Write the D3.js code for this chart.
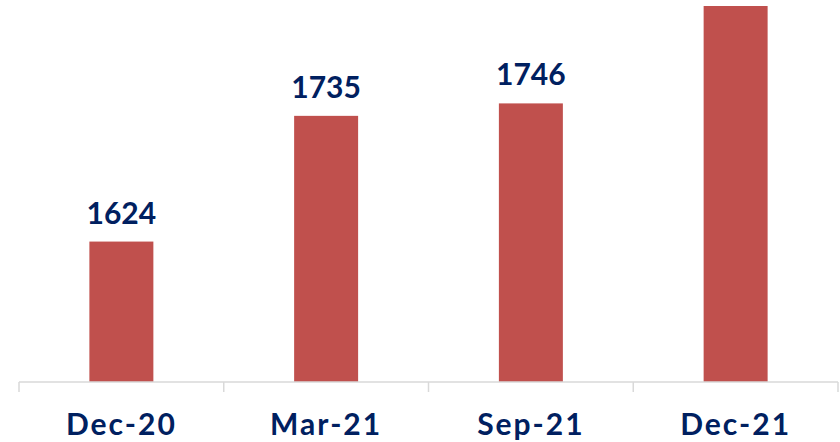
<!DOCTYPE html>
<html>
<head>
<meta charset="utf-8">
<script src="https://cdn.jsdelivr.net/npm/d3@7"></script>
<style>
  body { margin: 0; background: #fff; }
  text { font-family: "Lato", "DejaVu Sans", sans-serif; font-weight: bold; }
</style>
</head>
<body>
<div id="container"></div>
<script>
let categories = ["Dec-20", "Mar-21", "Sep-21", "Dec-21"];
let values = [1624, 1735, 1746, 1832];

let width = 840, height = 442;
let margin = {left: 19, right: 2, baseline: 382, top: 6};

let svg = d3.select("#container").append("svg")
    .attr("width", width)
    .attr("height", height);

let x = d3.scaleBand()
    .domain(categories)
    .range([margin.left, width - margin.right])
    .padding(0);

let y = d3.scaleLinear()
    .domain([1500, 1832])
    .range([margin.baseline, margin.top]);

let barWidth = x.bandwidth() * 0.3125;

svg.selectAll(".bar")
    .data(values)
    .enter().append("rect")
    .attr("class", "bar")
    .attr("x", function(d, i) { return x(categories[i]) + x.bandwidth() / 2 - barWidth / 2; })
    .attr("y", function(d) { return y(d); })
    .attr("width", barWidth)
    .attr("height", function(d) { return margin.baseline - y(d); })
    .style("fill", "#c0504d");

// the last bar reaches the top edge, its label falls outside the picture
svg.selectAll(".label")
    .data(values.filter(function(d) { return y(d) - 18 > 30; }))
    .enter().append("text")
    .attr("class", "label")
    .attr("x", function(d) { return x(categories[values.indexOf(d)]) + x.bandwidth() / 2; })
    .attr("y", function(d) { return y(d) - 18; })
    .attr("text-anchor", "middle")
    .style("font-size", "30px")
    .style("fill", "#002060")
    .text(function(d) { return d; });

// axis line and category separators
let axis = svg.append("g");
axis.append("line")
    .attr("x1", margin.left)
    .attr("x2", width - margin.right)
    .attr("y1", margin.baseline)
    .attr("y2", margin.baseline)
    .style("stroke", "#d9d9d9")
    .style("stroke-width", "1.5px");

let tickPos = categories.map(function(c) { return x(c); }).concat([x.range()[1]]);
axis.selectAll(".tick")
    .data(tickPos)
    .enter().append("line")
    .attr("x1", function(d) { return d; })
    .attr("x2", function(d) { return d; })
    .attr("y1", margin.baseline)
    .attr("y2", margin.baseline + 10)
    .style("stroke", "#d9d9d9")
    .style("stroke-width", "1.5px");

axis.selectAll(".cat")
    .data(categories)
    .enter().append("text")
    .attr("x", function(d) { return x(d) + x.bandwidth() / 2; })
    .attr("y", 435)
    .attr("text-anchor", "middle")
    .style("font-size", "30px")
    .style("letter-spacing", "2px")
    .style("fill", "#002060")
    .text(function(d) { return d; });
</script>
</body>
</html>
